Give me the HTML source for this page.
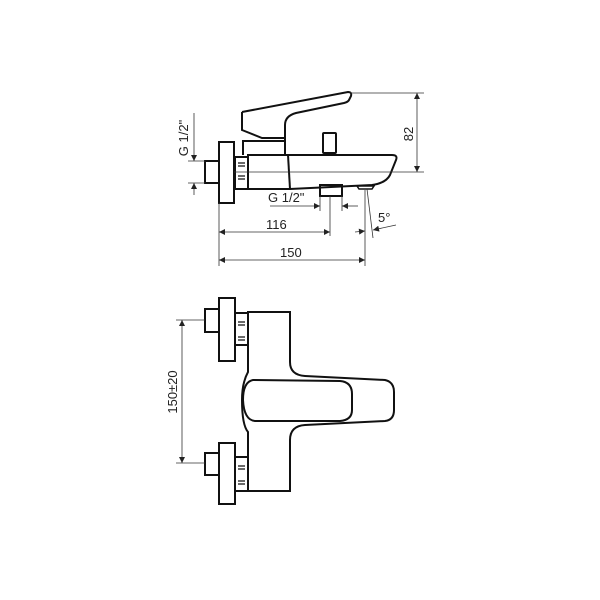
<!DOCTYPE html>
<html><head><style>
html,body{margin:0;padding:0;background:#fff;}
svg{display:block;}
text{font-family:"Liberation Sans",sans-serif;font-size:13px;fill:#222;}
</style></head><body>
<svg width="600" height="600" viewBox="0 0 600 600">
<defs>
<marker id="a" viewBox="0 0 10 10" refX="10" refY="5" markerWidth="8" markerHeight="6" orient="auto-start-reverse" markerUnits="userSpaceOnUse"><path d="M0,0 L10,5 L0,10 z" fill="#222"/></marker>
</defs>
<g fill="none" stroke="#111" stroke-width="2">
<rect x="219" y="142" width="15" height="61"/>
<rect x="205" y="161" width="14" height="22"/>
<rect x="235" y="157" width="13" height="32"/>
<path d="M248,155 L392,155 Q398,155 396,160 L390,175 Q386,183 372,185 L290,189 L248,189 Z"/>
<path d="M288,155 L290,189"/>
<path d="M242,112 L348,92 Q352,92 351,96 L349,100 Q348,102 344,103 L296,113 Q285,116 285,125 L285,155"/>
<path d="M242,112 L242,130 L262,138 L285,138"/>
<path d="M243,140 L243,155 M243,141 L285,141"/>
<rect x="323" y="133" width="13" height="20" rx="1"/>
<rect x="320" y="185" width="22" height="11"/>
<path d="M357,186 L374,186 L372,189 L359,189 Z" stroke-width="1.5"/>
<rect x="219" y="298" width="16" height="63"/>
<rect x="205" y="309" width="14" height="23"/>
<rect x="235" y="313" width="13" height="32"/>
<rect x="219" y="443" width="16" height="61"/>
<rect x="205" y="453" width="14" height="22"/>
<rect x="235" y="457" width="13" height="34"/>
<path d="M248,312 L290,312 L290,362 Q290,375 305,376 L385,380 Q394,382 394,392 L394,410 Q394,420 385,421 L305,425 Q290,426 290,440 L290,491 L248,491 L248,432 Q242,425 242,400 Q242,383 248,372 Z"/>
<path d="M253,380 L340,381 Q352,382 352,394 L352,410 Q352,420 340,421 L255,421 Q244,420 243,400 Q243,382 253,380 Z"/>
</g>
<g stroke="#111" stroke-width="1.2">
<path d="M238,322h7M238,325h7M238,337h7M238,340h7M238,466h7M238,469h7M238,481h7M238,484h7M238,163h7M238,166h7M238,176h7M238,179h7"/>
</g>
<g stroke="#333" stroke-width="0.8" fill="none">
<path d="M350,93 L424,93 M234,172 L424,172"/>
<path d="M417,93 L417,172" marker-start="url(#a)" marker-end="url(#a)"/>
<path d="M188,161 L205,161 M188,183 L205,183"/>
<path d="M194,113 L194,161" marker-end="url(#a)"/>
<path d="M194,195 L194,183" marker-end="url(#a)"/>
<path d="M270,206 L320,206" marker-end="url(#a)"/>
<path d="M358,206 L342,206" marker-end="url(#a)"/>
<path d="M320,196 L320,211 M342,196 L342,211 M330,196 L330,236"/>
<path d="M219,232 L330,232" marker-start="url(#a)" marker-end="url(#a)"/>
<path d="M219,203 L219,266 M365,190 L365,266"/>
<path d="M219,260 L365,260" marker-start="url(#a)" marker-end="url(#a)"/>
<path d="M367,189 L373,238"/>
<path d="M355,232 L365,231" marker-end="url(#a)"/>
<path d="M396,225 L373,230" marker-end="url(#a)"/>
<path d="M176,320 L205,320 M176,463 L205,463"/>
<path d="M182,320 L182,463" marker-start="url(#a)" marker-end="url(#a)"/>
</g>
<text x="268" y="202">G 1/2"</text>
<text x="266" y="229">116</text>
<text x="280" y="257">150</text>
<text x="378" y="222">5°</text>
<text transform="translate(413,134) rotate(-90)" text-anchor="middle">82</text>
<text transform="translate(188,138) rotate(-90)" text-anchor="middle">G 1/2"</text>
<text transform="translate(177,392) rotate(-90)" text-anchor="middle">150±20</text>
</svg>
</body></html>
